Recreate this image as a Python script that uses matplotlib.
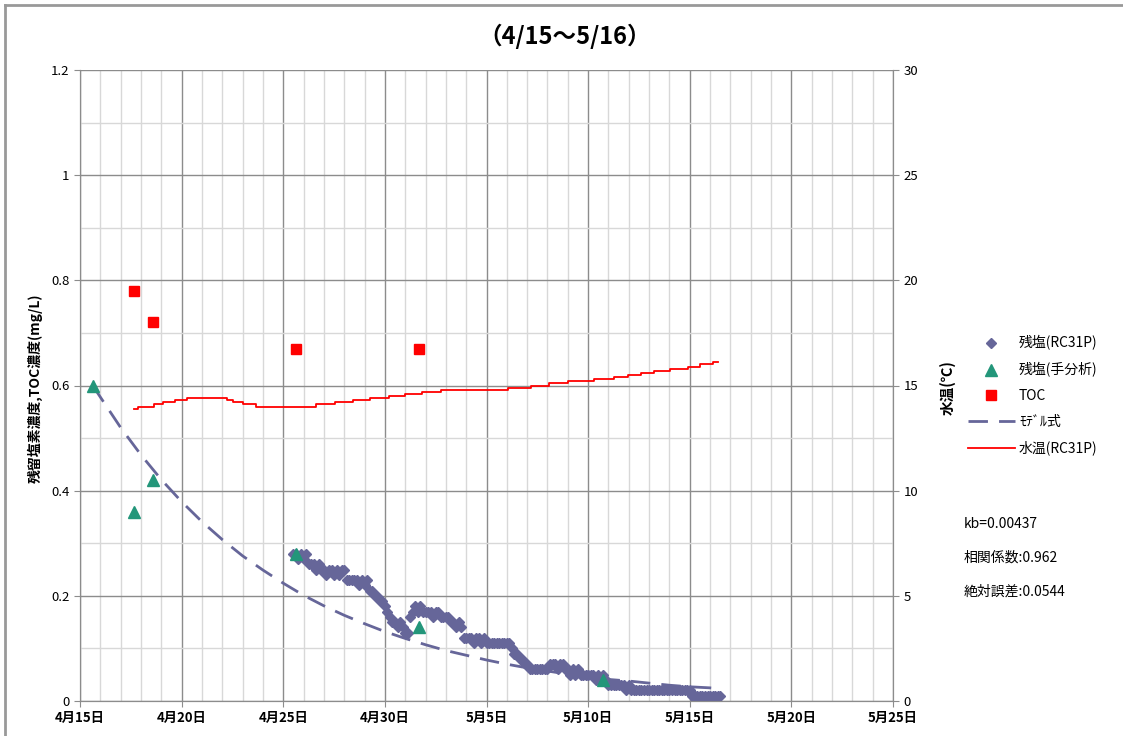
import matplotlib
matplotlib.use("Agg")
import matplotlib.pyplot as plt
from matplotlib.lines import Line2D
import pandas as pd

plt.rcParams['font.family'] = ['Noto Sans CJK JP', 'DejaVu Sans']

# 残塩(RC31P) 連続測定値: 4/25 12時から3時間毎
rc31p_start = "2010-04-25 12:00"
rc31p_step = "3h"
rc31p_values = [
    0.28, 0.28, 0.27, 0.28,                          # 4/25
    0.27, 0.28, 0.26, 0.26, 0.26, 0.25, 0.26, 0.25,  # 4/26
    0.25, 0.24, 0.25, 0.25, 0.24, 0.25, 0.24, 0.25,  # 4/27
    0.25, 0.23, 0.23, 0.23, 0.23, 0.23, 0.22, 0.23,  # 4/28
    0.22, 0.23, 0.21, 0.21, 0.20, 0.20, 0.19, 0.19,  # 4/29
    0.18, 0.17, 0.16, 0.15, 0.15, 0.14, 0.15, 0.14,  # 4/30
    0.13, 0.13, 0.16, 0.17, 0.18, 0.17, 0.18, 0.17,  # 5/1
    0.17, 0.17, 0.17, 0.16, 0.17, 0.17, 0.16, 0.16,  # 5/2
    0.16, 0.16, 0.15, 0.15, 0.14, 0.15, 0.14, 0.12,  # 5/3
    0.12, 0.12, 0.12, 0.11, 0.12, 0.12, 0.11, 0.12,  # 5/4
    0.11, 0.11, 0.11, 0.11, 0.11, 0.11, 0.11, 0.11,  # 5/5
    0.11, 0.11, 0.10, 0.09, 0.09, 0.08, 0.08, 0.07,  # 5/6
    0.07, 0.06, 0.06, 0.06, 0.06, 0.06, 0.06, 0.06,  # 5/7
    0.06, 0.07, 0.07, 0.07, 0.06, 0.07, 0.07, 0.06,  # 5/8
    0.06, 0.05, 0.06, 0.05, 0.06, 0.05, 0.05, 0.05,  # 5/9
    0.05, 0.05, 0.05, 0.04, 0.05, 0.04, 0.05, 0.04,  # 5/10
    0.03, 0.03, 0.03, 0.03, 0.03, 0.03, 0.03, 0.02,  # 5/11
    0.03, 0.02, 0.02, 0.02, 0.02, 0.02, 0.02, 0.02,  # 5/12
    0.02, 0.02, 0.02, 0.02, 0.02, 0.02, 0.02, 0.02,  # 5/13
    0.02, 0.02, 0.02, 0.02, 0.02, 0.02, 0.02, 0.02,  # 5/14
    0.02, 0.01, 0.01, 0.01, 0.01, 0.01, 0.01, 0.01,  # 5/15
    0.01, 0.01, 0.01, 0.01, 0.01,                    # 5/16
]

# 残塩(手分析)
hand_times = ["2010-04-15 15:00", "2010-04-17 16:00", "2010-04-18 14:00",
              "2010-04-25 15:00", "2010-05-01 16:00", "2010-05-10 18:00"]
hand_values = [0.60, 0.36, 0.42, 0.28, 0.14, 0.04]

# TOC
toc_times = ["2010-04-17 16:00", "2010-04-18 14:00",
             "2010-04-25 15:00", "2010-05-01 16:00"]
toc_values = [0.78, 0.72, 0.67, 0.67]

# モデル式 (日毎の値)
model_times = ["2010-04-15 15:00"] + [f"2010-{m:02d}-{d:02d} 00:00" for m, d in
               [(4, x) for x in range(16, 31)] + [(5, x) for x in range(1, 17)]] + ["2010-05-16 07:00"]
model_values = [0.600, 0.578, 0.520, 0.468, 0.421, 0.379, 0.341, 0.307, 0.276,
                0.249, 0.224, 0.201, 0.181, 0.163, 0.147, 0.132, 0.119, 0.107,
                0.096, 0.087, 0.078, 0.070, 0.063, 0.057, 0.051, 0.046, 0.041,
                0.038, 0.034, 0.030, 0.027, 0.025, 0.024]

# 水温(RC31P) ℃
temp_times = ["2010-04-17 16:00", "2010-04-17 20:00", "2010-04-18 15:00", "2010-04-19 02:00",
              "2010-04-19 16:00", "2010-04-20 06:00", "2010-04-22 06:00", "2010-04-22 13:00",
              "2010-04-23 00:00", "2010-04-23 16:00", "2010-04-26 15:00", "2010-04-27 13:00",
              "2010-04-28 10:00", "2010-04-29 07:00", "2010-04-30 05:00", "2010-05-01 00:00",
              "2010-05-01 20:00", "2010-05-02 18:00", "2010-05-06 01:00", "2010-05-07 04:00",
              "2010-05-08 02:00", "2010-05-09 00:00", "2010-05-10 07:00", "2010-05-11 06:00",
              "2010-05-11 23:00", "2010-05-12 14:00", "2010-05-13 06:00", "2010-05-14 01:00",
              "2010-05-14 22:00", "2010-05-15 12:00", "2010-05-16 03:00", "2010-05-16 09:00"]
temp_values = [13.9, 14.0, 14.1, 14.2, 14.3, 14.4, 14.3, 14.2, 14.1, 14.0, 14.1, 14.2,
               14.3, 14.4, 14.5, 14.6, 14.7, 14.8, 14.9, 15.0, 15.1, 15.2, 15.3, 15.4,
               15.5, 15.6, 15.7, 15.8, 15.9, 16.0, 16.1, 16.1]

stats_lines = ["kb=0.00437", "相関係数:0.962", "絶対誤差:0.0544"]

navy = "#666699"
green = "#23967a"
red = "#ff0000"
grid_major = "#8c8c8c"
grid_minor = "#d8d8d8"

fig = plt.figure(figsize=(11.23, 7.36), dpi=100)
ax = fig.add_axes([80 / 1123, 1 - 701 / 736, (893 - 80) / 1123, (701 - 70) / 736])
ax2 = ax.twinx()

rc_t = pd.date_range(rc31p_start, periods=len(rc31p_values), freq=rc31p_step)
ax.plot(rc_t, rc31p_values, ls="none", marker="D", ms=5.5, color=navy, mec=navy,
        label="残塩(RC31P)", zorder=3)
ax.plot(pd.to_datetime(model_times), model_values, color=navy, lw=2.0,
        dashes=(7, 4), label="ﾓﾃﾞﾙ式", zorder=3)
ax.plot(pd.to_datetime(hand_times), hand_values, ls="none", marker="^", ms=8,
        color=green, label="残塩(手分析)", zorder=4)
ax.plot(pd.to_datetime(toc_times), toc_values, ls="none", marker="s", ms=7,
        color=red, label="TOC", zorder=4)
ax2.plot(pd.to_datetime(temp_times), temp_values, color=red, lw=1.3,
         drawstyle="steps-post", label="水温(RC31P)")

ax.set_xlim(pd.Timestamp("2010-04-15"), pd.Timestamp("2010-05-25"))
ax.set_ylim(0, 1.2)
ax2.set_ylim(0, 30)

major_days = pd.date_range("2010-04-15", "2010-05-25", freq="5D")
ax.set_xticks(major_days)
ax.set_xticks(pd.date_range("2010-04-15", "2010-05-25", freq="D"), minor=True)
ax.set_xticklabels([f"{d.month}月{d.day}日" for d in major_days],
                   fontsize=9.5, fontweight="bold")
ax.set_yticks([0, 0.2, 0.4, 0.6, 0.8, 1.0, 1.2])
ax.set_yticklabels(["0", "0.2", "0.4", "0.6", "0.8", "1", "1.2"], fontsize=9.5)
ax.set_yticks([0.1, 0.3, 0.5, 0.7, 0.9, 1.1], minor=True)
ax2.set_yticks(range(0, 31, 5))
ax2.tick_params(axis="y", labelsize=9.5, length=4, color=grid_major)

ax.grid(which="major", color=grid_major, lw=1.0)
ax.grid(which="minor", color=grid_minor, lw=1.0)
ax.set_axisbelow(True)
ax.tick_params(which="major", length=4, color=grid_major)
ax.tick_params(which="minor", length=0)
for a in (ax, ax2):
    for s in a.spines.values():
        s.set_color(grid_major)
ax.spines["top"].set_visible(False)
ax2.spines["top"].set_visible(False)

fig.suptitle("（4/15～5/16）", x=565 / 1123, y=1 - 24 / 736, fontsize=17,
             fontweight="bold")
fig.text(35 / 1123, 1 - 388 / 736, "残留塩素濃度,TOC濃度(mg/L)", rotation=90,
         ha="center", va="center", fontsize=10, fontweight="bold")
fig.text(948 / 1123, 1 - 388 / 736, "水温(℃)", rotation=90,
         ha="center", va="center", fontsize=10.5, fontweight="bold")

h1, l1 = ax.get_legend_handles_labels()
h2, l2 = ax2.get_legend_handles_labels()
order = [0, 2, 3, 1]
handles = [h1[i] for i in order] + h2
labels = [l1[i] for i in order] + l2
fig.legend(handles, labels, loc="upper left", bbox_to_anchor=(962 / 1123, 1 - 330 / 736),
           frameon=False, fontsize=10, handlelength=3.4, handletextpad=0.3,
           labelspacing=0.85, borderaxespad=0)

for i, s in enumerate(stats_lines):
    fig.text(964 / 1123, 1 - (524 + 34 * i) / 736, s, ha="left", va="center", fontsize=10)

# 外枠 (上・左)
fig.add_artist(Line2D([5 / 1123, 5 / 1123], [0, 1 - 5 / 736], color="#999999", lw=2))
fig.add_artist(Line2D([5 / 1123, 1], [1 - 5 / 736, 1 - 5 / 736], color="#999999", lw=2))

fig.savefig("out.png", dpi=100)
